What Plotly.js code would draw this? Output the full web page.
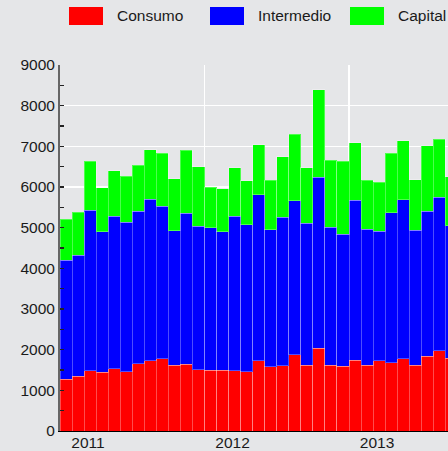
<!DOCTYPE html>
<html>
<head>
<meta charset="utf-8">
<script src="https://cdn.plot.ly/plotly-3.0.1.min.js"></script>
<style>html,body{margin:0;padding:0;background:#e5e6e8;overflow:hidden;}#chart{width:448px;height:451px;}</style>
</head>
<body>
<div id="chart"></div>
<script>
// Monthly categories
const months = ["2011-01","2011-02","2011-03","2011-04","2011-05","2011-06","2011-07","2011-08","2011-09","2011-10","2011-11","2011-12",
  "2012-01","2012-02","2012-03","2012-04","2012-05","2012-06","2012-07","2012-08","2012-09","2012-10","2012-11","2012-12",
  "2013-01","2013-02","2013-03","2013-04","2013-05","2013-06","2013-07","2013-08","2013-09"];
const seriesNames = ["Consumo", "Intermedio", "Capital"];
const consumo = [1271,1345,1483,1443,1525,1459,1648,1729,1779,1623,1640,1508,1492,1500,1483,1459,1729,1574,1607,1869,1623,2033,1623,1591,1746,1623,1729,1680,1779,1623,1844,1975,1787];
const intermedio = [2934,2975,3943,3459,3754,3672,3754,3976,3746,3303,3713,3533,3500,3402,3804,3615,4082,3377,3655,3795,3484,4205,3393,3246,3926,3336,3181,3681,3909,3311,3558,3779,3262];
const capital = [1008,1065,1213,1082,1123,1132,1139,1213,1303,1271,1549,1451,1000,1049,1188,1074,1230,1221,1484,1631,1368,2155,1640,1795,1418,1213,1205,1467,1451,1246,1614,1418,1205];
const yearLabels = ["2011", "2012", "2013"];

const colors = ["#ff0000", "#0000ff", "#00ff00"];
const values = [consumo, intermedio, capital];
const xIdx = months.map((m, i) => i);

const traces = values.map((v, k) => ({
  type: "bar",
  x: xIdx,
  y: v,
  name: seriesNames[k],
  marker: {color: colors[k], line: {color: "rgba(255,255,255,0.3)", width: 1}},
  hovertext: months,
  showlegend: false
}));

// year boundaries (index of first month of each year, minus half a bar)
const yearTicks = yearLabels.map(y => months.indexOf(y + "-01") - 0.5);

// pixel -> paper helpers for the legend drawn as shapes
const L = 60, T = 65, W = 388, H = 366;
const px = p => (p - L) / W;
const py = p => (T + H - p) / H;
const legX = [69, 210, 350];
const shapes = [];
const annotations = [];
seriesNames.forEach((n, k) => {
  shapes.push({type: "rect", xref: "paper", yref: "paper",
    x0: px(legX[k]), x1: px(legX[k] + 34), y0: py(25), y1: py(7),
    fillcolor: colors[k], line: {width: 0}});
  annotations.push({xref: "paper", yref: "paper", x: px(legX[k] + 46), y: py(16),
    xanchor: "left", yanchor: "middle", text: n, showarrow: false,
    font: {family: "Liberation Sans, Arial, sans-serif", size: 15.5, color: "#1a1a1a"}});
});

const layout = {
  width: 448, height: 451,
  margin: {l: L, r: 0, t: T, b: 20},
  paper_bgcolor: "#e5e6e8",
  plot_bgcolor: "#e5e6e8",
  barmode: "stack",
  bargap: 0,
  font: {family: "Liberation Sans, Arial, sans-serif", size: 15.5, color: "#1a1a1a"},
  xaxis: {
    range: [-0.5, 31.72],
    tickmode: "array",
    tickvals: yearTicks,
    ticktext: yearLabels,
    ticks: "",
    ticklabelshift: 28,
    ticklabelstandoff: -3,
    showgrid: true, gridcolor: "#ffffff", gridwidth: 1.5,
    zeroline: false,
    showline: true, linecolor: "#000000", linewidth: 1,
    tickfont: {size: 15.5}
  },
  yaxis: {
    range: [0, 9000],
    dtick: 1000,
    ticks: "inside", ticklen: 4, tickcolor: "#222", tickwidth: 1.5,
    minor: {dtick: 500, ticks: "inside", ticklen: 4, tickcolor: "#222", tickwidth: 1.5, showgrid: false},
    showgrid: true, gridcolor: "#ffffff", gridwidth: 1.5,
    zeroline: false,
    showline: true, linecolor: "#666666", linewidth: 2,
    tickfont: {size: 15.5}
  },
  shapes: shapes,
  annotations: annotations
};

Plotly.newPlot("chart", traces, layout, {displayModeBar: false, staticPlot: true});
</script>
</body>
</html>
